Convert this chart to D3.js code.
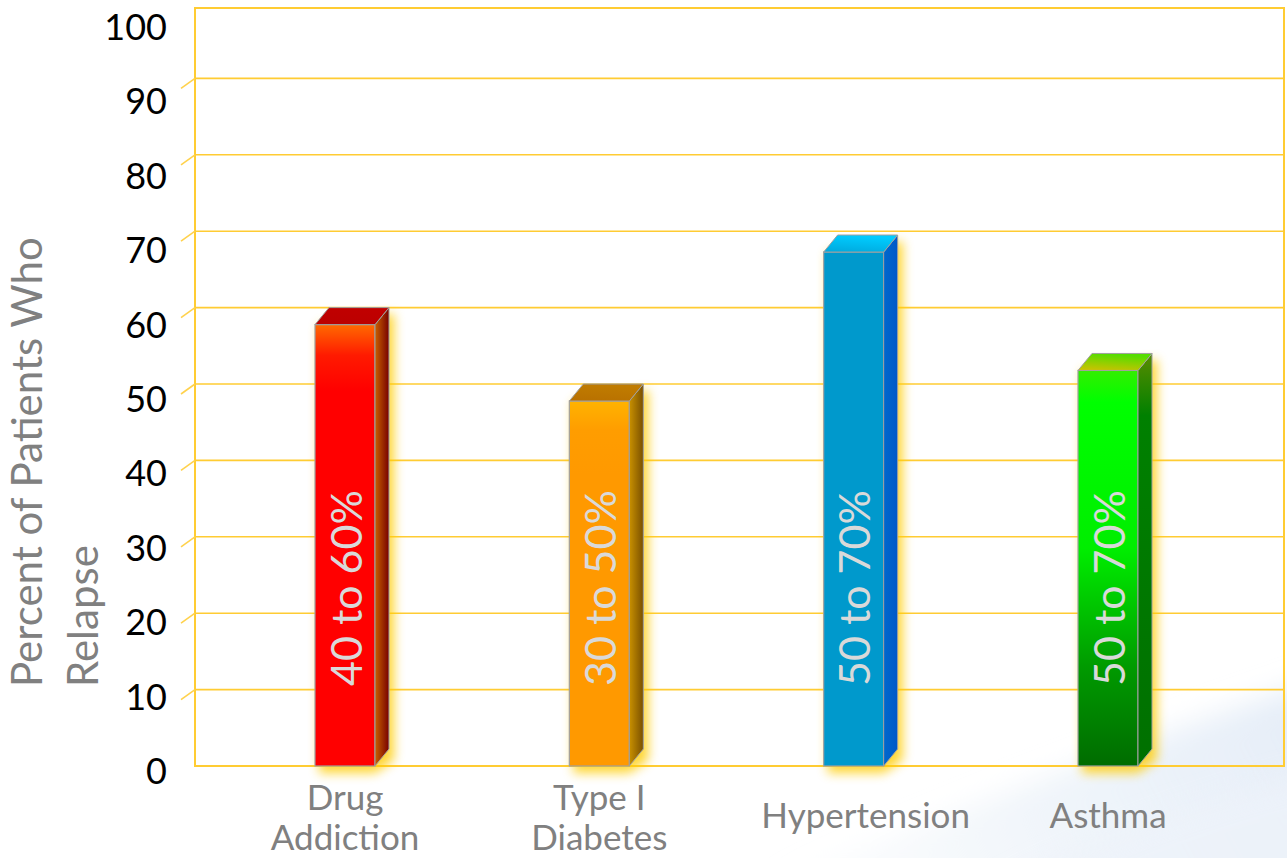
<!DOCTYPE html>
<html>
<head>
<meta charset="utf-8">
<script src="https://cdn.jsdelivr.net/npm/d3@7/dist/d3.min.js"></script>
<style>
  html, body { margin: 0; padding: 0; background: #ffffff; }
  svg { display: block; font-family: Lato, "Open Sans", sans-serif; }
</style>
</head>
<body>
<svg id="chart" width="1287" height="858"></svg>
<script>
// ---- data ----
const categories = ["Drug Addiction", "Type I Diabetes", "Hypertension", "Asthma"];
const categoryLines = [["Drug", "Addiction"], ["Type I", "Diabetes"], ["Hypertension"], ["Asthma"]];
const values = [60, 50, 69.5, 54];
const barLabels = ["40 to 60%", "30 to 50%", "50 to 70%", "50 to 70%"];
const yTicks = [0, 10, 20, 30, 40, 50, 60, 70, 80, 90, 100];
const yTitleLines = ["Percent of Patients Who", "Relapse"];

// ---- styles ----
const frontColors = [
  [["0", "#ff6a00"], ["0.07", "#ff1a00"], ["0.15", "#ff0000"], ["1", "#ff0000"]],
  [["0", "#ffb300"], ["0.08", "#ff9d00"], ["0.2", "#ff9900"], ["1", "#ff9900"]],
  [["0", "#0099cc"], ["1", "#0099cc"]],
  [["0", "#33ee00"], ["0.08", "#00ff00"], ["0.45", "#00ee00"], ["0.75", "#009a00"], ["1", "#006c00"]]
];
const sideColors = [["#c86000", "#780000"], ["#c89000", "#7a5000"], ["#0068cc", "#0058c8"], ["#3a8c00", "#007a00"]];
const topColors = [["#bb0000", "#c00000"], ["#b87000", "#c07c00"], ["#00a8dc", "#00ccff"], ["#d4c000", "#55dd00"]];

const W = 1287, H = 858;
const plot = { left: 195, right: 1284, top: 8, bottom: 766 };
const depth = { dx: 14, dy: -17 };
const barW = 60;

const svg = d3.select("#chart");
const defs = svg.append("defs");

// background swoosh (very faint)
const soft = defs.append("filter").attr("id", "soft")
  .attr("x", "-20%").attr("y", "-50%").attr("width", "140%").attr("height", "200%");
soft.append("feGaussianBlur").attr("stdDeviation", 14);
const bg = defs.append("linearGradient").attr("id", "bgGrad")
  .attr("x1", "0").attr("y1", "0.6").attr("x2", "1").attr("y2", "0.4");
bg.append("stop").attr("offset", "0").attr("stop-color", "#edf3f9").attr("stop-opacity", 0);
bg.append("stop").attr("offset", "0.5").attr("stop-color", "#edf3f9").attr("stop-opacity", 0.8);
bg.append("stop").attr("offset", "1").attr("stop-color", "#e6eef8").attr("stop-opacity", 1);
svg.append("path")
  .attr("d", "M720,900 C920,830 1130,740 1320,680 L1320,900 Z")
  .attr("fill", "url(#bgGrad)").attr("filter", "url(#soft)");
svg.append("path")
  .attr("d", "M980,900 C1090,840 1200,800 1320,770 L1320,900 Z")
  .attr("fill", "#eef3fa").attr("opacity", 0.7).attr("filter", "url(#soft)");

// scales
const y = d3.scaleLinear().domain([0, 100]).range([plot.bottom, 2]);
const yLab = d3.scaleLinear().domain([0, 100]).range([770, 26]);
const x = d3.scalePoint().domain(categories).range([345, 1108]);

// plot frame + gridlines
const gridColor = "#ffcc33";
const g = svg.append("g");
g.append("rect")
  .attr("x", plot.left).attr("y", plot.top)
  .attr("width", plot.right - plot.left).attr("height", plot.bottom - plot.top)
  .attr("fill", "none").attr("stroke", gridColor).attr("stroke-width", 2);

const inner = yTicks.filter(t => t > 0 && t < 100);
g.selectAll("line.grid").data(inner).join("line")
  .attr("class", "grid")
  .attr("x1", plot.left).attr("x2", plot.right)
  .attr("y1", d => y(d)).attr("y2", d => y(d))
  .attr("stroke", gridColor).attr("stroke-width", 1.6);
g.selectAll("line.diag").data(inner).join("line")
  .attr("class", "diag")
  .attr("x1", 181).attr("y1", d => y(d) + 10)
  .attr("x2", plot.left).attr("y2", d => y(d))
  .attr("stroke", "#ffd24d").attr("stroke-width", 1.6);

// y tick labels
svg.append("g").selectAll("text").data(yTicks).join("text")
  .attr("x", 167).attr("y", d => yLab(d))
  .attr("text-anchor", "end").attr("dominant-baseline", "central")
  .attr("font-size", 36).attr("fill", "#000000")
  .text(d => d);

// y axis title
const yt = svg.append("g").attr("transform", "translate(0,687) rotate(-90)");
yt.selectAll("text").data(yTitleLines).join("text")
  .attr("x", 0).attr("y", (d, i) => 42 + i * 56)
  .attr("text-anchor", "start")
  .attr("font-size", 42).attr("fill", "#808080")
  .text(d => d);

// gradients per bar
categories.forEach((c, i) => {
  const fg = defs.append("linearGradient").attr("id", "front" + i)
    .attr("x1", 0).attr("y1", 0).attr("x2", 0).attr("y2", 1);
  frontColors[i].forEach(s => fg.append("stop").attr("offset", s[0]).attr("stop-color", s[1]));
  const sg = defs.append("linearGradient").attr("id", "side" + i)
    .attr("x1", 0).attr("y1", 0).attr("x2", 1).attr("y2", 0);
  sg.append("stop").attr("offset", 0).attr("stop-color", sideColors[i][0]);
  sg.append("stop").attr("offset", 1).attr("stop-color", sideColors[i][1]);
  const tg = defs.append("linearGradient").attr("id", "top" + i)
    .attr("x1", 0).attr("y1", 1).attr("x2", 0.3).attr("y2", 0);
  tg.append("stop").attr("offset", 0).attr("stop-color", topColors[i][0]);
  tg.append("stop").attr("offset", 1).attr("stop-color", topColors[i][1]);
});
// green side: vertical darkening
const gs = defs.select("#side3").attr("x1", 0).attr("y1", 0).attr("x2", 0).attr("y2", 1);
gs.selectAll("stop").remove();
gs.append("stop").attr("offset", 0).attr("stop-color", "#5a8c00");
gs.append("stop").attr("offset", 0.15).attr("stop-color", "#008000");
gs.append("stop").attr("offset", 1).attr("stop-color", "#007000");

const glow = defs.append("filter").attr("id", "glow")
  .attr("x", "-50%").attr("y", "-20%").attr("width", "200%").attr("height", "140%");
glow.append("feGaussianBlur").attr("stdDeviation", 5.5);

// bars
const bars = svg.append("g").selectAll("g.bar")
  .data(categories.map((c, i) => ({ c, v: values[i], i, label: barLabels[i] })))
  .join("g").attr("class", "bar");

const geom = d => {
  const cx = x(d.c);
  const l = cx - barW / 2, r = cx + barW / 2;
  const yf = y(d.v) - depth.dy;      // front top
  const yb = plot.bottom;            // front bottom
  return { cx, l, r, yf, yb };
};

bars.append("path")
  .attr("d", d => {
    const q = geom(d);
    return `M${q.l + 4},${q.yf} L${q.r + depth.dx + 5},${q.yf + depth.dy + 6} L${q.r + depth.dx + 5},${q.yb - 6} L${q.r},${q.yb + 7} L${q.l + 4},${q.yb + 7} Z`;
  })
  .attr("fill", "#ffcc00").attr("opacity", 0.8).attr("filter", "url(#glow)");

bars.append("rect")
  .attr("x", d => geom(d).l).attr("y", d => geom(d).yf)
  .attr("width", barW).attr("height", d => geom(d).yb - geom(d).yf)
  .attr("fill", d => `url(#front${d.i})`)
  .attr("stroke", "#a0a0a0").attr("stroke-width", 1.2);

bars.append("path")
  .attr("d", d => {
    const q = geom(d);
    return `M${q.r},${q.yf} L${q.r + depth.dx},${q.yf + depth.dy} L${q.r + depth.dx},${q.yb + depth.dy} L${q.r},${q.yb} Z`;
  })
  .attr("fill", d => `url(#side${d.i})`)
  .attr("stroke", "#a0a0a0").attr("stroke-width", 1);

bars.append("path")
  .attr("d", d => {
    const q = geom(d);
    return `M${q.l},${q.yf} L${q.r},${q.yf} L${q.r + depth.dx},${q.yf + depth.dy} L${q.l + depth.dx},${q.yf + depth.dy} Z`;
  })
  .attr("fill", d => `url(#top${d.i})`)
  .attr("stroke", "#a0a0a0").attr("stroke-width", 1);

bars.append("text")
  .attr("transform", d => `translate(${geom(d).cx},686) rotate(-90)`)
  .attr("text-anchor", "start").attr("dominant-baseline", "central")
  .attr("font-size", 43).attr("fill", "#d9d9d9")
  .text(d => d.label);

// x category labels
const xl = svg.append("g").selectAll("text")
  .data(categories.map((c, i) => ({ c, lines: categoryLines[i] })))
  .join("text")
  .attr("text-anchor", "middle")
  .attr("font-size", 35).attr("fill", "#808080");
xl.each(function (d, i) {
  const t = d3.select(this);
  const base = d.lines.length > 1 ? 810 : 828;
  t.selectAll("tspan").data(d.lines).join("tspan")
    .attr("x", x(d.c) + (i === 2 ? 12 : 0)).attr("y", (s, k) => base + k * 40)
    .text(s => s);
});
</script>
</body>
</html>
